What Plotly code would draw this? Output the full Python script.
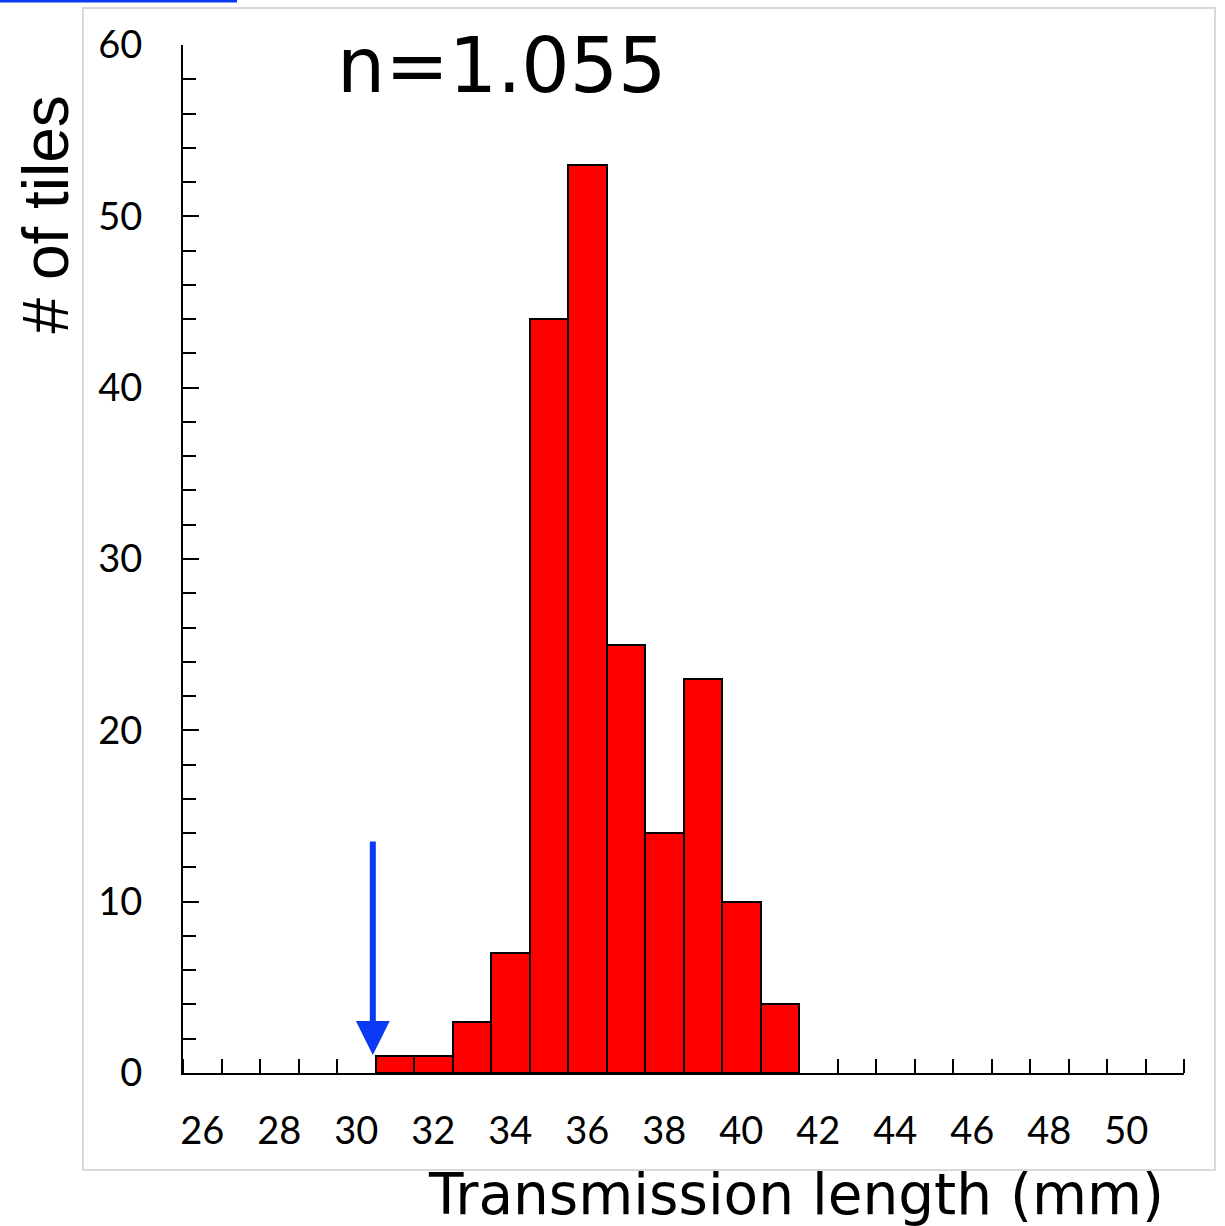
import plotly.graph_objects as go

# Data
lengths = [31, 32, 33, 34, 35, 36, 37, 38, 39, 40, 41]
counts = [1, 1, 3, 7, 44, 53, 25, 14, 23, 10, 4]
x_tick_values = list(range(26, 51, 2))
y_tick_values = list(range(0, 61, 10))
arrow_x = 30.43
arrow_tip_y = 1.05
arrow_tail_y = 13.6
annotation_text = "n=1.055"

fig = go.Figure()
fig.add_trace(go.Bar(
    x=lengths, y=counts, width=1,
    marker=dict(color="#ff0000", line=dict(color="black", width=2)),
    showlegend=False,
))

fig.add_annotation(
    x=arrow_x, y=arrow_tip_y, ax=arrow_x, ay=arrow_tail_y,
    xref="x", yref="y", axref="x", ayref="y",
    showarrow=True, arrowhead=2, arrowwidth=6, arrowsize=1.13,
    arrowcolor="#0a3af5", standoff=0, text="",
)

fig.add_annotation(
    x=0.318, y=0.98, xref="paper", yref="paper", text=annotation_text,
    showarrow=False, font=dict(family="DejaVu Sans", size=76, color="black"),
    xanchor="center", yanchor="middle",
)
fig.add_annotation(
    x=0.612, y=-0.118, xref="paper", yref="paper", text="Transmission length (mm)",
    showarrow=False, font=dict(family="DejaVu Sans", size=56.5, color="black"),
    xanchor="center", yanchor="middle",
)
fig.add_annotation(
    x=-0.137, y=0.835, xref="paper", yref="paper", text="# of tiles",
    showarrow=False, textangle=-90,
    font=dict(family="Liberation Sans", size=64, color="black"),
    xanchor="center", yanchor="middle",
)

# gray outer frame
fig.add_shape(type="rect", xref="paper", yref="paper",
              x0=-0.0999, x1=1.031, y0=-0.0944, y1=1.036,
              line=dict(color="#d9d9d9", width=2), layer="below")
# blue line at top-left
fig.add_shape(type="line", xref="paper", yref="paper",
              x0=-0.183, x1=0.054, y0=1.0428, y1=1.0428,
              line=dict(color="#0a3af5", width=3))

fig.update_xaxes(
    range=[25.5, 51.5], tickvals=x_tick_values, ticks="",
    showline=True, linecolor="black", linewidth=2,
    showgrid=False, zeroline=False,
    tickfont=dict(family="Lato", size=38, color="black"),
    ticklabelstandoff=23,
    minor=dict(ticks="inside", tick0=25.5, dtick=1, ticklen=14,
               tickwidth=2, tickcolor="black", showgrid=False),
)
fig.update_yaxes(
    range=[0, 60], tickvals=y_tick_values, ticks="inside", ticklen=16,
    tickwidth=2, tickcolor="black",
    showline=True, linecolor="black", linewidth=2,
    showgrid=False, zeroline=False,
    tickfont=dict(family="Lato", size=38, color="black"),
    ticklabelstandoff=31,
    minor=dict(ticks="inside", dtick=2, ticklen=13, tickwidth=2,
               tickcolor="black", showgrid=False),
)

fig.update_layout(
    width=1225, height=1226,
    margin=dict(l=183, r=41, t=45, b=153, pad=0),
    plot_bgcolor="white", paper_bgcolor="white",
    bargap=0,
)

fig.write_html("out.html")
